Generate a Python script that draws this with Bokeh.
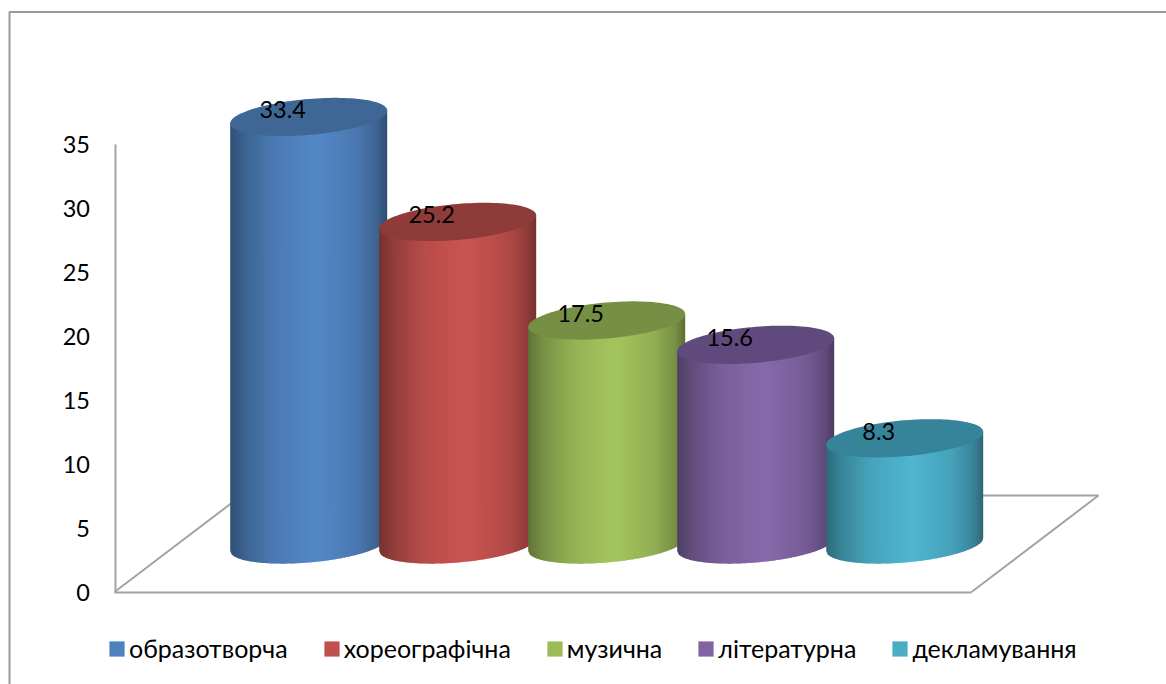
from bokeh.embed import file_html
from bokeh.resources import INLINE
from bokeh.plotting import figure
from bokeh.models import Range1d, FixedTicker, Legend, LegendItem
from bokeh.core.properties import value
import numpy as np

categories = ["образотворча", "хореографічна", "музична", "літературна", "декламування"]
values = [33.4, 25.2, 17.5, 15.6, 8.3]
labels = ["33.4", "25.2", "17.5", "15.6", "8.3"]
side_colors = ["#4F81BD", "#C0504D", "#9BBB59", "#8064A2", "#4BACC6"]
top_colors = ["#3F6796", "#8F3B39", "#778F45", "#60497C", "#36849A"]
y_ticks = [0, 5, 10, 15, 20, 25, 30, 35]

FONT = "Lato"
W, H = 1166, 684
PX_X, PX_Y = 149.0, 12.8      # pixels per category / per value unit
CX0, Y0 = 308.2, 591.5        # picture position of category 0 and value 0


def sx(px):
    return (px - CX0) / PX_X


def sy(py):
    return (Y0 - py) / PX_Y


DEPTH = (Y0 - 544) / PX_Y     # base of the cylinders, behind the front of the floor
A = 78.5 / PX_X               # half width
B = 18.0 / PX_Y               # half height of the end ellipses
C = 6.5 / PX_Y                # tilt of the end ellipses

p = figure(width=W, height=H, output_backend="svg", toolbar_location=None,
           x_range=Range1d(sx(0), sx(W)), y_range=Range1d(sy(H), sy(0)),
           min_border=0, min_border_left=0, min_border_right=0, min_border_top=0, min_border_bottom=0)
p.grid.visible = False
p.outline_line_color = None
p.background_fill_color = "white"

AX = "#A3A3A3"
p.yaxis.fixed_location = sx(114.5)
p.yaxis.bounds = (0, 35)
p.yaxis.ticker = FixedTicker(ticks=y_ticks)
p.yaxis.major_tick_line_color = None
p.yaxis.minor_tick_line_color = None
p.yaxis.major_label_standoff = 19
p.yaxis.major_label_text_font = FONT
p.yaxis.major_label_text_font_size = "23.5px"
p.yaxis.major_label_text_color = "black"
p.yaxis.axis_line_color = AX
p.yaxis.axis_line_width = 2

p.xaxis.fixed_location = 0
p.xaxis.bounds = (sx(114), sx(971))
p.xaxis.ticker = FixedTicker(ticks=[])
p.xaxis.minor_tick_line_color = None
p.xaxis.major_tick_line_color = None
p.xaxis.axis_line_color = AX
p.xaxis.axis_line_width = 2

# outer frame and floor
p.line(x=[sx(9), sx(9), sx(1166)], y=[sy(684), sy(11.5), sy(11.5)], line_color="#9A9A9A", line_width=2)
p.line(x=[sx(971), sx(1098), sx(241), sx(114)], y=[0, sy(495), sy(495), 0], line_color=AX, line_width=2)


def shade(t):
    return np.interp(t, [0, 0.1, 0.28, 0.55, 0.8, 0.93, 1], [0.62, 0.78, 0.95, 1.06, 0.94, 0.78, 0.60])


def mix(col, f):
    rgb = [int(col[i:i + 2], 16) for i in (1, 3, 5)]
    return "#" + "".join(f"{int(min(255, c * f)):02x}" for c in rgb)


items = []
N = 80
for i, (v, col, tcol, name) in enumerate(zip(values, side_colors, top_colors, categories)):
    base = DEPTH
    top = DEPTH + v
    # the bar itself, which also carries the legend entry
    r = p.quad(left=[i - 0.4], right=[i + 0.4], bottom=[base], top=[top],
               fill_color=col, line_color=None)
    items.append(LegendItem(label=name, renderers=[r]))
    edges = np.linspace(-1, 1, N + 1)
    xs, ys, cs = [], [], []
    for k in range(N):
        u0, u1 = edges[k], min(1, edges[k + 1] + 0.012)
        uu = np.linspace(u0, u1, 3)
        low = base + C * uu - B * np.sqrt(np.clip(1 - uu ** 2, 0, 1))
        up = top + C * uu[::-1]
        xs.append(list(i + A * uu) + list(i + A * uu[::-1]))
        ys.append(list(low) + list(up))
        cs.append(mix(col, shade((k + 0.5) / N)))
    p.patches(xs, ys, fill_color=cs, line_color=None)
    tt = np.linspace(0, 2 * np.pi, 121)
    p.patch(i + A * np.cos(tt), top + C * np.cos(tt) + B * np.sin(tt), fill_color=tcol, line_color=None)

p.text(x=list(range(5)), y=[DEPTH + v for v in values], text=labels,
       x_offset=-26, y_offset=-7, text_align="center", text_baseline="middle",
       text_font=value(FONT), text_font_size="23.5px", text_color="black")

legend = Legend(items=items, orientation="horizontal", location=(107, 21),
                glyph_width=19, glyph_height=19, label_standoff=3, spacing=34,
                padding=0, margin=0, border_line_color=None, background_fill_alpha=0,
                label_text_font=FONT, label_text_font_size="25px", label_text_color="black",
                label_height=20)
p.add_layout(legend, "center")

open("out.html", "w").write(file_html(p, INLINE))
